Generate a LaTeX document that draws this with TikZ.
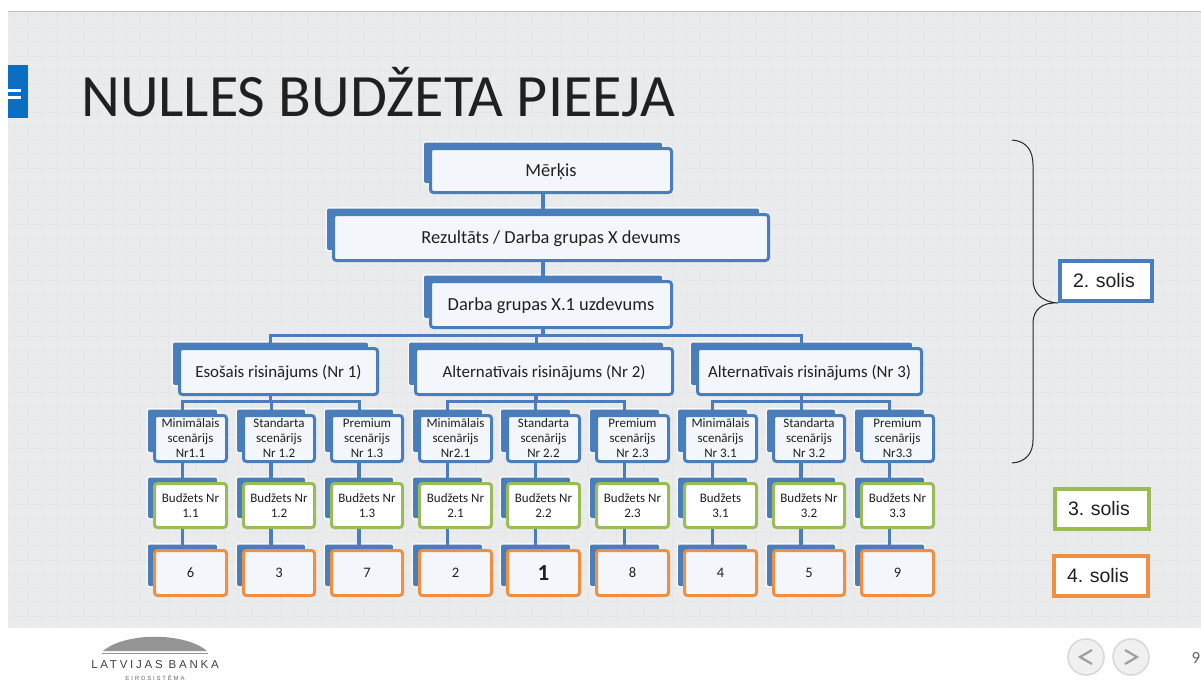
\documentclass[tikz,border=0pt]{standalone}
\usepackage{fontspec}
\setmainfont{Carlito}
\newfontfamily\arialf{Liberation Sans}
\newfontfamily\logofont[LetterSpace=24]{Liberation Sans}
\newfontfamily\logosmall[LetterSpace=30]{Liberation Sans}
\definecolor{pagebg}{HTML}{EAEBEC}
\definecolor{gridc}{HTML}{E5E6E7}
\definecolor{blueb}{HTML}{4A7EBB}
\definecolor{greenb}{HTML}{9BBB59}
\definecolor{orangeb}{HTML}{F08F42}
\definecolor{tabblue}{HTML}{0A6FC2}
\definecolor{boxfill}{HTML}{F3F7FB}
\definecolor{ink}{HTML}{202020}
\tikzset{
  gridline/.style={draw=gridc,line width=0.4pt},
  frontbox/.style={rectangle,rounded corners=3pt,line width=3pt,fill=boxfill,inner sep=0pt,align=center,text=ink},
  bluefront/.style={frontbox,draw=blueb},
  greenfront/.style={frontbox,draw=greenb,fill=white},
  orangefront/.style={frontbox,draw=orangeb},
  backbox/.style={rectangle,rounded corners=2pt,fill=blueb,inner sep=0pt,outer sep=0pt,
    preaction={draw=white,line width=3pt,opacity=0.75}},
  conn/.style={draw=blueb,line width=3.5pt},
  bus/.style={draw=blueb,line width=3pt},
  bigtxt/.style={font=\fontsize{18.4}{22}\selectfont,text height=12pt,text depth=0pt},
  midtxt/.style={font=\fontsize{16.9}{20}\selectfont,text height=11pt,text depth=0pt},
  smalltxt/.style={font=\fontsize{13}{15}\selectfont},
  ranktxt/.style={font=\fontsize{14.5}{16}\selectfont},
  stepnote/.style={rectangle,line width=4pt,fill=white,inner sep=0pt,text=ink,align=left,
    font=\arialf\fontsize{19.5}{22}\selectfont\frenchspacing},
  navbtn/.style={circle,draw=black!15,fill=white!94!black,line width=1.6pt,minimum size=36pt,inner sep=0pt,outer sep=0pt},
  navmark/.style={draw=black!38,line width=2.2pt},
  bracepath/.style={draw=black!85,line width=1pt}
}
% name, front style, x1, y1, x2, y2, back bottom, text style, text
\newcommand{\tbox}[9]{%
  \pgfmathsetmacro{\bxa}{#3-5}\pgfmathsetmacro{\bya}{#4-4.5}%
  \pgfmathsetmacro{\bxb}{#5-11}%
  \node[backbox,minimum width={(\bxb-\bxa)*1pt},minimum height={(#7-\bya)*1pt}] (#1back) at ({(\bxa+\bxb)/2},{(\bya+#7)/2}) {};%
  \node[#2,#8,minimum width={(#5-#3-3)*1pt},minimum height={(#6-#4-3)*1pt}] (#1) at ({(#3+#5)/2},{(#4+#6)/2}) {#9};%
}
\newcommand{\colset}[7]{% key, x1, x2, scen text, budget text, rank text, (unused)
  \tbox{s#1}{bluefront}{#2}{414}{#3}{463}{452}{smalltxt}{#4}%
  \tbox{b#1}{greenfront}{#2}{482}{#3}{529}{518}{smalltxt}{#5}%
  \tbox{r#1}{orangefront}{#2}{549}{#3}{597}{586}{ranktxt}{#6}%
  \draw[conn] (s#1.south -| s#1back.north) -- (b#1back.north);%
  \draw[conn] (b#1.south -| b#1back.north) -- (r#1back.north);%
}
\begin{document}
\begin{tikzpicture}[x=1pt,y=-1pt]
\useasboundingbox (0,0) rectangle (1201,681);
\fill[white] (0,0) rectangle (1201,681);
% slide background
\fill[pagebg] (8,11) rectangle (1201,628);
\begin{scope}
\clip (8,12) rectangle (1201,626);
\draw[gridline,xstep=14pt,ystep=14pt] (8,12) grid (1201,626);
\end{scope}
\draw[black!25,line width=0.8pt] (8,11) -- (1201,11);
% blue tab
\fill[tabblue] (8,65) rectangle (28,118);
\fill[white] (8,89) rectangle (21,91.5);
\fill[white] (8,96) rectangle (21,98.5);
% title
\node[anchor=base west,inner sep=0pt,text=ink,font=\fontsize{60.1}{62}\selectfont] (title) at (81,116) {NULLES BUDŽETA PIEEJA};
% top boxes
\tbox{goal}{bluefront}{429}{147}{673}{194}{183}{bigtxt}{Mērķis}
\tbox{res}{bluefront}{332}{213}{770}{262}{250}{bigtxt}{Rezultāts / Darba grupas X devums}
\tbox{task}{bluefront}{429}{280}{673}{329}{318}{bigtxt}{Darba grupas X.1 uzdevums}
\draw[conn] (goal.south -| goalback.north) -- (resback.north);
\draw[conn] (res.south -| resback.north) -- (taskback.north);
% level 2
\tbox{eso}{bluefront}{178}{347}{379}{396}{385}{midtxt}{Esošais risinājums (Nr 1)}
\tbox{alta}{bluefront}{414}{347}{674}{396}{385}{midtxt}{Alternatīvais risinājums (Nr 2)}
\tbox{altb}{bluefront}{696}{347}{923}{396}{385}{midtxt}{Alternatīvais risinājums (Nr 3)}
\coordinate (mainbus) at (543,335);
\draw[conn] (task.south -| taskback.north) -- (mainbus);
\draw[bus] (esoback.north) |- (mainbus) -| (altbback.north);
\draw[bus] (altaback.north) -- (altaback.north |- mainbus);
% columns
\colset{11}{153}{228}{Minimālais\\scenārijs\\Nr1.1}{Budžets Nr\\1.1}{6}{}
\colset{12}{242}{316}{Standarta\\scenārijs\\Nr 1.2}{Budžets Nr\\1.2}{3}{}
\colset{13}{330}{404}{Premium\\scenārijs\\Nr 1.3}{Budžets Nr\\1.3}{7}{}
\colset{21}{418}{493}{Minimālais\\scenārijs\\Nr2.1}{Budžets Nr\\2.1}{2}{}
\colset{22}{506}{581}{Standarta\\scenārijs\\Nr 2.2}{Budžets Nr\\2.2}{\fontsize{23}{24}\selectfont\textbf{1}}{}
\colset{23}{595}{670}{Premium\\scenārijs\\Nr 2.3}{Budžets Nr\\2.3}{8}{}
\colset{31}{683}{758}{Minimālais\\scenārijs\\Nr 3.1}{Budžets\\3.1}{4}{}
\colset{32}{772}{846}{Standarta\\scenārijs\\Nr 3.2}{Budžets Nr\\3.2}{5}{}
\colset{33}{860}{935}{Premium\\scenārijs\\Nr3.3}{Budžets Nr\\3.3}{9}{}
% child buses
\coordinate (busa) at (eso.south -| esoback.north);
\coordinate (busaj) at ([yshift=-5pt]busa);
\draw[conn] (busa) -- (busaj);
\draw[bus] (s11back.north) |- (busaj) -| (s13back.north);
\draw[bus] (s12back.north) -- (s12back.north |- busaj);
\coordinate (busb) at (alta.south -| altaback.north);
\coordinate (busbj) at ([yshift=-5pt]busb);
\draw[conn] (busb) -- (busbj);
\draw[bus] (s21back.north) |- (busbj) -| (s23back.north);
\draw[bus] (s22back.north) -- (s22back.north |- busbj);
\coordinate (busc) at (altb.south -| altbback.north);
\coordinate (buscj) at ([yshift=-5pt]busc);
\draw[conn] (busc) -- (buscj);
\draw[bus] (s31back.north) |- (buscj) -| (s33back.north);
\draw[bus] (s32back.north) -- (s32back.north |- buscj);
% step notes
\node[stepnote,draw=blueb,minimum width=92pt,minimum height=40pt,text width=92pt] (sol2) at (1106,281) {\hspace*{13pt}2. solis};
\node[stepnote,draw=greenb,minimum width=94pt,minimum height=40pt,text width=94pt] (sol3) at (1102,509) {\hspace*{13pt}3. solis};
\node[stepnote,draw=orangeb,minimum width=94pt,minimum height=40pt,text width=94pt] (sol4) at (1101,576) {\hspace*{13pt}4. solis};
% brace
\coordinate (bracetip) at (sol2.south west);
\draw[bracepath] (1012,140) .. controls (1026,141) and (1033,150) .. (1033,165)
  -- (1033,280) .. controls (1033,293) and (1042,302) .. (bracetip)
  .. controls (1042,302) and (1033,310) .. (1033,323)
  -- (1033,440) .. controls (1033,453) and (1026,462) .. (1012,463);
% footer
\fill[black!42] (103,651) .. controls (125,632) and (185,632) .. (207,651) -- cycle;
\draw[black!42,line width=1.2pt] (102,653.5) -- (208,653.5);
\node[inner sep=0pt,text=black!75,font=\logofont\fontsize{11.5}{12}\selectfont] (bank) at (155,665) {LATVIJAS BANKA};
\node[inner sep=0pt,text=black!60,font=\logosmall\fontsize{6}{7}\selectfont] (euro) at (155,678) {EIROSISTĒMA};
\node[navbtn] (prev) at (1086,657) {};
\node[navbtn] (next) at (1131,657) {};
\draw[navmark] (1092,650) -- (1080,657) -- (1092,664);
\draw[navmark] (1125,650) -- (1137,657) -- (1125,664);
\node[inner sep=0pt,text=black!60,font=\fontsize{17}{18}\selectfont] (pageno) at (1196,658) {9};
\end{tikzpicture}
\end{document}
